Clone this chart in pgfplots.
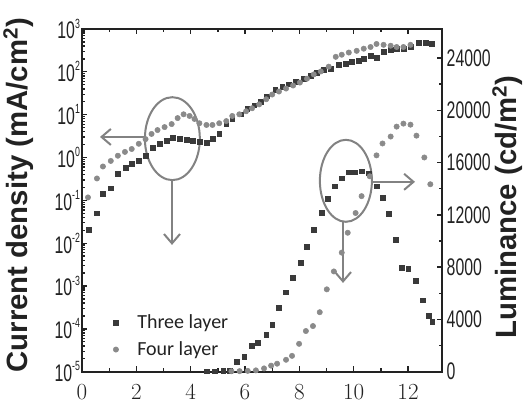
\documentclass[border=0pt]{standalone}
\usepackage{fontspec}
\setmainfont{Liberation Sans}
\newfontfamily\tickfont[FakeStretch=0.66]{Liberation Sans}
\newfontfamily\legfont{Carlito}
\usepackage{pgfplots}
\pgfplotsset{compat=1.18}
\usetikzlibrary{arrows.meta}
\definecolor{sqcol}{HTML}{3A3A3A}
\definecolor{cicol}{HTML}{8A8A8A}
\definecolor{anncol}{HTML}{828282}
\definecolor{framecol}{HTML}{222222}
\newcommand{\tp}[1]{10\raisebox{0.85ex}{\fontsize{10}{10}\selectfont #1}}
\begin{document}
\begin{tikzpicture}
\begin{axis}[
  name=ax,
  scale only axis, width=270pt, height=257pt,
  xmin=0, xmax=13.25,
  ymode=log, ymin=1e-5, ymax=1e3,
  xtick={0,2,...,12}, minor x tick num=1,
  xtick pos=both, ytick pos=left,
  ytick={1e-5,1e-4,1e-3,1e-2,1e-1,1,10,100,1000},
  yticklabels={\tp{-5},\tp{-4},\tp{-3},\tp{-2},\tp{-1},\tp{0},\tp{1},\tp{2},\tp{3}},
  xticklabel style={font=\tickfont\fontsize{18}{18}\selectfont, text=framecol, yshift=-6.5pt},
  yticklabel style={font=\tickfont\fontsize{18}{18}\selectfont, text=framecol, xshift=2pt},
  major tick length=4pt, minor tick length=2.5pt,
  every tick/.style={framecol, line width=1pt},
  axis line style={framecol, line width=1.6pt},
  ylabel={\textbf{Current density (mA/cm\textsuperscript{2})}},
  ylabel style={at={(rel axis cs:-0.176,0.515)}, anchor=center, font=\fontsize{22}{22}\selectfont, text=framecol},
  legend style={at={(rel axis cs:0.075,0.025)}, anchor=south west, draw=none, fill=none,
    font=\legfont\fontsize{15}{15}\selectfont, row sep=4pt, text=framecol},
  legend cell align=left,
  clip=false,
]
\addplot[only marks, mark=square*, mark size=1.8pt, sqcol] coordinates {
(0.26,0.0204) (0.55,0.0501) (0.77,0.145) (1.06,0.191) (1.32,0.417) (1.61,0.575)
(1.83,0.724) (2.09,0.832) (2.34,1.10) (2.60,1.70) (2.86,2.09) (3.11,2.45)
(3.33,2.88) (3.59,2.69) (3.85,2.57) (4.07,2.45) (4.32,2.29) (4.58,2.19)
(4.80,2.69) (5.05,3.55) (5.31,6.03) (5.53,7.94) (5.86,10.2) (6.08,13.5)
(6.34,16.6) (6.59,20.4) (6.81,26.9) (7.11,38.9) (7.37,45.7) (7.62,51.3)
(7.88,58.9) (8.17,69.2) (8.42,81.3) (8.64,95.5) (8.90,112) (9.16,120)
(9.45,148) (9.71,155) (9.93,174) (10.18,182) (10.37,204) (10.62,240)
(10.84,214) (11.10,295) (11.36,324) (11.58,347) (11.83,347) (12.09,380)
(12.38,479) (12.64,479) (12.86,447)
};
\addlegendentry{\hspace{12pt}Three layer}
\addplot[only marks, mark=*, mark size=2pt, cicol] coordinates {
(0.22,0.117) (0.55,0.324) (0.77,0.617) (1.06,0.832) (1.32,1.10) (1.58,1.35)
(1.83,1.58) (2.09,2.09) (2.34,2.69) (2.56,3.55) (2.78,4.37) (3.04,5.13)
(3.30,6.03) (3.52,8.32) (3.74,10.2) (3.96,9.33) (4.14,7.94) (4.32,6.31)
(4.58,5.75) (4.80,5.75) (5.05,6.31) (5.31,7.08) (5.53,9.33) (5.79,10.2)
(6.04,12.0) (6.26,14.1) (6.52,17.4) (6.78,22.9) (7.00,29.5) (7.25,34.7)
(7.51,40.7) (7.77,47.9) (8.02,56.2) (8.28,69.2) (8.53,87.1) (8.79,102)
(9.08,132) (9.34,224) (9.56,251) (9.82,282) (10.11,309) (10.37,347)
(10.62,380) (10.84,447) (11.10,427) (11.36,407) (11.58,380) (11.83,380)
(12.09,427)
};
\addlegendentry{\hspace{12pt}Four layer}
% annotations
\draw[anncol, line width=1.5pt] (rel axis cs:0.251,0.680) ellipse [x radius=20.6pt, y radius=31.1pt];
\draw[anncol, line width=1.5pt, -{Straight Barb[length=7pt,width=12pt]}] (rel axis cs:0.175,0.685) -- (rel axis cs:0.05,0.685);
\draw[anncol, line width=1.5pt, -{Straight Barb[length=7pt,width=12pt]}] (rel axis cs:0.25,0.560) -- (rel axis cs:0.25,0.370);
\draw[anncol, line width=1.5pt] (rel axis cs:0.733,0.557) ellipse [x radius=19.5pt, y radius=30.75pt];
\draw[anncol, line width=1.5pt, -{Straight Barb[length=7pt,width=12pt]}] (rel axis cs:0.806,0.554) -- (rel axis cs:0.925,0.554);
\draw[anncol, line width=1.5pt, -{Straight Barb[length=7pt,width=12pt]}] (rel axis cs:0.725,0.437) -- (rel axis cs:0.725,0.259);
\coordinate (bl) at (rel axis cs:0,0);
\coordinate (tr) at (rel axis cs:1,1);
\end{axis}
\begin{axis}[
  scale only axis, width=270pt, height=257pt,
  xmin=0, xmax=13.25,
  ymin=0, ymax=26220,
  xtick=\empty, ytick pos=right,
  ytick={0,4000,...,24000}, minor y tick num=1,
  scaled y ticks=false,
  yticklabel style={font=\tickfont\fontsize{18}{18}\selectfont, text=framecol, /pgf/number format/.cd, 1000 sep={}, assume math mode=true},
  major tick length=4pt, minor tick length=2.5pt,
  every tick/.style={framecol, line width=1pt},
  axis line style={framecol, line width=1.6pt},
  ylabel={\textbf{Luminance (cd/m\textsuperscript{2})}},
  ylabel style={at={(rel axis cs:1.182,0.48)}, anchor=center, font=\fontsize{22}{22}\selectfont, text=framecol},
  clip=false,
]
\addplot[only marks, mark=square*, mark size=1.8pt, sqcol] coordinates {
(4.6,30) (4.9,30) (5.2,40) (5.45,60)
(5.71,760) (5.97,1140) (6.26,1970) (6.48,2200) (6.78,2810) (7.00,3570)
(7.25,4860) (7.51,6070) (7.77,7210) (8.06,8350) (8.28,9560) (8.53,10850)
(8.83,12140) (9.05,13210) (9.30,14190) (9.56,14800) (9.82,15260) (10.04,15260)
(10.29,15330) (10.55,15180) (10.84,14190) (11.06,13280) (11.28,12070) (11.54,10100)
(11.76,7970) (12.01,7890) (12.27,6980) (12.53,5460) (12.75,4250) (12.89,3800)
};
\addplot[only marks, mark=*, mark size=2pt, cicol] coordinates {
(5.5,30) (5.8,40) (6.1,60) (6.4,100) (6.7,250)
(6.96,460) (7.18,610) (7.51,910) (7.73,1210) (7.99,2130) (8.24,3110)
(8.50,3490) (8.75,4550) (9.01,6300) (9.27,7670) (9.56,9110) (9.78,10630)
(10.07,12140) (10.29,13430) (10.59,14950) (10.84,16550) (11.06,17460) (11.36,17990)
(11.58,18750) (11.83,18980) (12.09,18900) (12.31,18060) (12.60,16390) (12.82,14340)
};
\end{axis}
\pgfresetboundingbox
\path[use as bounding box] ([xshift=-61.5pt,yshift=-23.25pt]bl) rectangle ([xshift=60.75pt,yshift=21.75pt]tr);
\end{tikzpicture}
\end{document}
